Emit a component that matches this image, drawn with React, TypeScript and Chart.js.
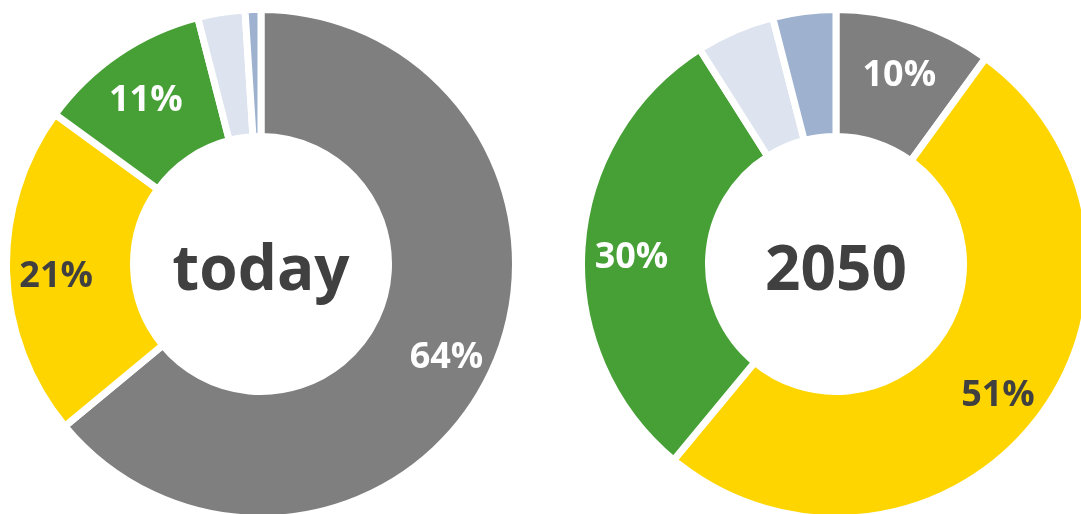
import React, { useEffect, useRef } from "react";
import { Chart, registerables } from "chart.js";

Chart.register(...registerables);

const categories = ["Segment 1", "Segment 2", "Segment 3", "Segment 4", "Segment 5"];
const todayValues = [64, 21, 11, 3, 1];
const values2050 = [10, 51, 30, 5, 4];
const centerTitles = ["today", "2050"];

const sliceColors = ["#7f7f7f", "#ffd500", "#47a036", "#dde4ef", "#9eb2d0"];
const labelColors = ["#ffffff", "#404040", "#ffffff", "#404040", "#404040"];
const minLabelValue = 10;

const FONT = '"Open Sans", "Noto Sans", sans-serif';

function makeLabelPlugin(title: string) {
  return {
    id: "donutLabels",
    afterDatasetsDraw(chart: any) {
      const ctx = chart.ctx;
      const meta = chart.getDatasetMeta(0);
      const data = chart.data.datasets[0].data as number[];
      ctx.save();
      ctx.textAlign = "center";
      ctx.textBaseline = "alphabetic";
      let cx = 0;
      let cy = 0;
      meta.data.forEach((arc: any, i: number) => {
        const p = arc.getProps(["x", "y", "startAngle", "endAngle", "innerRadius", "outerRadius"], true);
        cx = p.x;
        cy = p.y;
        if (data[i] < minLabelValue) return;
        const mid = (p.startAngle + p.endAngle) / 2;
        const r = p.innerRadius + 0.61 * (p.outerRadius - p.innerRadius);
        const x = p.x + Math.cos(mid) * r;
        const y = p.y + Math.sin(mid) * r + 4;
        const size = 36;
        ctx.font = `bold ${size}px ${FONT}`;
        ctx.fillStyle = labelColors[i];
        ctx.fillText(`${data[i]}%`, x, y + size * 0.714 / 2);
      });
      ctx.font = `bold 62px ${FONT}`;
      ctx.fillStyle = "#404040";
      ctx.fillText(title, cx, cy + 26);
      ctx.restore();
    },
  };
}

function Donut({ values, title, left }: { values: number[]; title: string; left: number }) {
  const ref = useRef<HTMLCanvasElement | null>(null);
  useEffect(() => {
    if (!ref.current) return;
    const chart = new Chart(ref.current, {
      type: "doughnut",
      data: {
        labels: categories,
        datasets: [
          {
            data: values,
            backgroundColor: sliceColors,
            borderColor: "#ffffff",
            borderWidth: 7,
            hoverOffset: 0,
          },
        ],
      },
      options: {
        animation: false,
        responsive: true,
        maintainAspectRatio: false,
        cutout: "50.1%",
        layout: { padding: 0 },
        plugins: {
          legend: { display: false },
          tooltip: { enabled: false },
        },
        events: [],
      },
      plugins: [makeLabelPlugin(title)],
    });
    return () => chart.destroy();
  }, [values, title]);
  return (
    <div style={{ position: "absolute", left, top: 6, width: 516, height: 516 }}>
      <canvas ref={ref} />
    </div>
  );
}

export default function App() {
  useEffect(() => {
    document.body.style.margin = "0";
  }, []);
  return (
    <div
      style={{
        position: "fixed",
        left: 0,
        top: 0,
        width: 1081,
        height: 514,
        overflow: "hidden",
        background: "#ffffff",
      }}
    >
      <Donut values={todayValues} title={centerTitles[0]} left={3} />
      <Donut values={values2050} title={centerTitles[1]} left={578} />
    </div>
  );
}
